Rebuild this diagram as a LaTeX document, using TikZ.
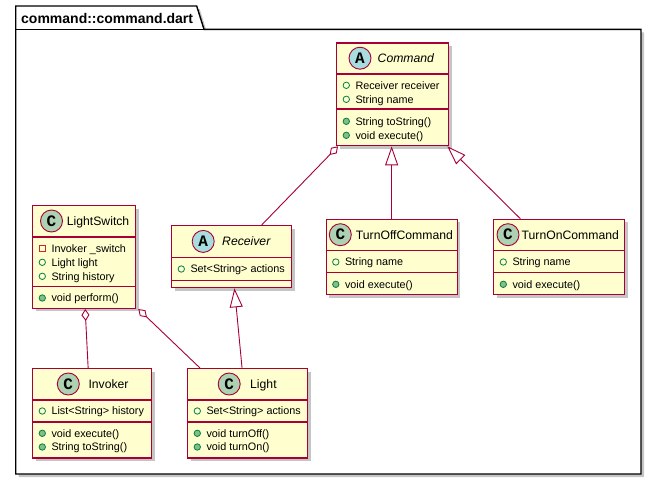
\documentclass[tikz,border=0pt]{standalone}
\usepackage{fontspec}
\setmainfont{Liberation Sans}
\newfontfamily\spotfont{Liberation Mono}
\usetikzlibrary{arrows.meta,shadows,calc}

\definecolor{umlborder}{HTML}{A80036}
\definecolor{umlfill}{HTML}{FEFECE}
\definecolor{spotC}{HTML}{ADD1B2}
\definecolor{spotA}{HTML}{A9DCDF}
\definecolor{fieldgreen}{HTML}{038048}
\definecolor{methodfill}{HTML}{84BE84}
\definecolor{privred}{HTML}{C82930}

\tikzset{
  umlshadow/.style={drop shadow={shadow xshift=3pt,shadow yshift=-3pt,fill=black!45,opacity=.5}},
  pkgframe/.style={draw=black,fill=white,line width=1.4pt,umlshadow},
  pkgtitle/.style={anchor=base west,inner sep=0pt,font=\bfseries\fontsize{14}{16}\selectfont},
  classbox/.style={draw=umlborder,fill=umlfill,line width=1.3pt,anchor=north west,
    inner sep=0pt,umlshadow},
  sepline/.style={draw=umlborder,line width=1.1pt},
  spotbase/.style={circle,draw=umlborder,line width=0.9pt,minimum size=22pt,inner sep=0pt,
    font=\spotfont\bfseries\fontsize{16}{16}\selectfont},
  spotclass/.style={spotbase,fill=spotC},
  spotabstract/.style={spotbase,fill=spotA},
  classname/.style={anchor=base west,inner sep=0pt,font=\fontsize{12.2}{14}\selectfont},
  abstractname/.style={classname,font=\itshape\fontsize{12.2}{14}\selectfont},
  member/.style={anchor=base west,inner sep=0pt,font=\fontsize{10.8}{13}\selectfont},
  pubfield/.style={circle,draw=fieldgreen,line width=0.8pt,minimum size=6.4pt,inner sep=0pt},
  pubmethod/.style={pubfield,fill=methodfill},
  privfield/.style={rectangle,draw=privred,line width=0.8pt,minimum size=6.4pt,inner sep=0pt},
  link/.style={draw=umlborder,line width=0.9pt},
  aggr/.style={link,{Diamond[open,length=12pt,width=8pt]}-},
  extends/.style={link,-{Triangle[open,length=19pt,width=13pt]}},
}

% #1 node name, #2 marker style, #3 left x of the class, #4 row y, #5 text
\newcommand\umlmember[5]{%
  \node[#2] (#1-mark) at ($(#3,#4)+(10.3,0)$) {};
  \node[member] (#1) at ($(#3,#4)+(19.3,3.8)$) {#5};
}
% #1 node name, #2 spot style, #3 letter, #4 spot x, #5 header y, #6 name style, #7 name x, #8 name
\newcommand\umlheader[8]{%
  \node[#2] (#1-spot) at (#4,#5) {#3};
  \node[#6] (#1-name) at ($(#7,#5)+(0,4.3)$) {#8};
}

\begin{document}
\begin{tikzpicture}[x=1pt,y=-1pt]
\useasboundingbox (0,0) rectangle (657,480);

% package frame with its tab
\path[pkgframe] (15.7,6) -- (196.7,6) -- (204,29.3) -- (641,29.3) -- (641,474)
  -- (15.7,474) -- cycle;
\draw[black,line width=1.4pt] (15.7,29.3) -- (204,29.3);
\node[pkgtitle] (pkgname) at (21,23) {command::command.dart};

% Command
\node[classbox,minimum width=112pt,minimum height=102.7pt] (command) at (336,42.3) {};
\draw[sepline] (336,74) -- (448,74);
\draw[sepline] (336,109) -- (448,109);
\umlheader{command}{spotabstract}{A}{360}{58.2}{abstractname}{377.5}{Command}
\umlmember{cmd-recv}{pubfield}{336}{85.3}{Receiver receiver}
\umlmember{cmd-name}{pubfield}{336}{99.3}{String name}
\umlmember{cmd-tostr}{pubmethod}{336}{121.3}{String toString()}
\umlmember{cmd-exec}{pubmethod}{336}{135.3}{void execute()}

% LightSwitch
\node[classbox,minimum width=103pt,minimum height=102.7pt] (lightswitch) at (32,205) {};
\draw[sepline] (32,237) -- (135,237);
\draw[sepline] (32,286.7) -- (135,286.7);
\umlheader{lightswitch}{spotclass}{C}{51.5}{221}{classname}{66.7}{LightSwitch}
\umlmember{ls-switch}{privfield}{32}{248.3}{Invoker \_switch}
\umlmember{ls-light}{pubfield}{32}{262.3}{Light light}
\umlmember{ls-history}{pubfield}{32}{276.3}{String history}
\umlmember{ls-perform}{pubmethod}{32}{298}{void perform()}

% Receiver
\node[classbox,minimum width=120pt,minimum height=62pt] (receiver) at (171,225) {};
\draw[sepline] (171,257.7) -- (291,257.7);
\draw[sepline] (171,280.7) -- (291,280.7);
\umlheader{receiver}{spotabstract}{A}{203.2}{241.4}{abstractname}{222}{Receiver}
\umlmember{rcv-actions}{pubfield}{171}{269}{Set<String> actions}

% TurnOffCommand
\node[classbox,minimum width=131pt,minimum height=75.3pt] (turnoff) at (325.5,218.7) {};
\draw[sepline] (325.5,250.7) -- (456.5,250.7);
\draw[sepline] (325.5,272.7) -- (456.5,272.7);
\umlheader{turnoff}{spotclass}{C}{340.3}{234.7}{classname}{355.7}{TurnOffCommand}
\umlmember{toff-name}{pubfield}{325.5}{262}{String name}
\umlmember{toff-exec}{pubmethod}{325.5}{284.3}{void execute()}

% TurnOnCommand
\node[classbox,minimum width=131pt,minimum height=75.3pt] (turnon) at (493,218.7) {};
\draw[sepline] (493,250.7) -- (624,250.7);
\draw[sepline] (493,272.7) -- (624,272.7);
\umlheader{turnon}{spotclass}{C}{508}{234.7}{classname}{521.5}{TurnOnCommand}
\umlmember{ton-name}{pubfield}{493}{262}{String name}
\umlmember{ton-exec}{pubmethod}{493}{284.3}{void execute()}

% Invoker
\node[classbox,minimum width=119pt,minimum height=89.3pt] (invoker) at (32,368) {};
\draw[sepline] (32,400) -- (151,400);
\draw[sepline] (32,422) -- (151,422);
\umlheader{invoker}{spotclass}{C}{68.3}{384}{classname}{88.3}{Invoker}
\umlmember{inv-history}{pubfield}{32}{411}{List<String> history}
\umlmember{inv-exec}{pubmethod}{32}{433.3}{void execute()}
\umlmember{inv-tostr}{pubmethod}{32}{447}{String toString()}

% Light
\node[classbox,minimum width=120pt,minimum height=89.3pt] (light) at (187,368) {};
\draw[sepline] (187,400) -- (307,400);
\draw[sepline] (187,422) -- (307,422);
\umlheader{light}{spotclass}{C}{229.2}{384}{classname}{250}{Light}
\umlmember{lt-actions}{pubfield}{187}{411}{Set<String> actions}
\umlmember{lt-off}{pubmethod}{187}{433.3}{void turnOff()}
\umlmember{lt-on}{pubmethod}{187}{447}{void turnOn()}

% relations
\draw[aggr] ($(command.south west)+(2,0)$) -- ($(receiver.north)+(30,0)$);
\draw[extends] (turnoff.north) -- (turnoff.north |- command.south);
\draw[extends] ($(turnon.north)+(-38.8,0)$) -- ($(command.south east)+(-2,0)$);
\draw[extends] ($(light.north)+(-5.6,0)$) -- ($(receiver.south)+(2.8,0)$);
\draw[aggr] ($(lightswitch.south)+(1,0)$) -- ($(invoker.north)+(-4,0)$);
\draw[aggr] ($(lightswitch.south east)+(2,0)$) -- ($(light.north west)+(13,0)$);
\end{tikzpicture}
\end{document}
